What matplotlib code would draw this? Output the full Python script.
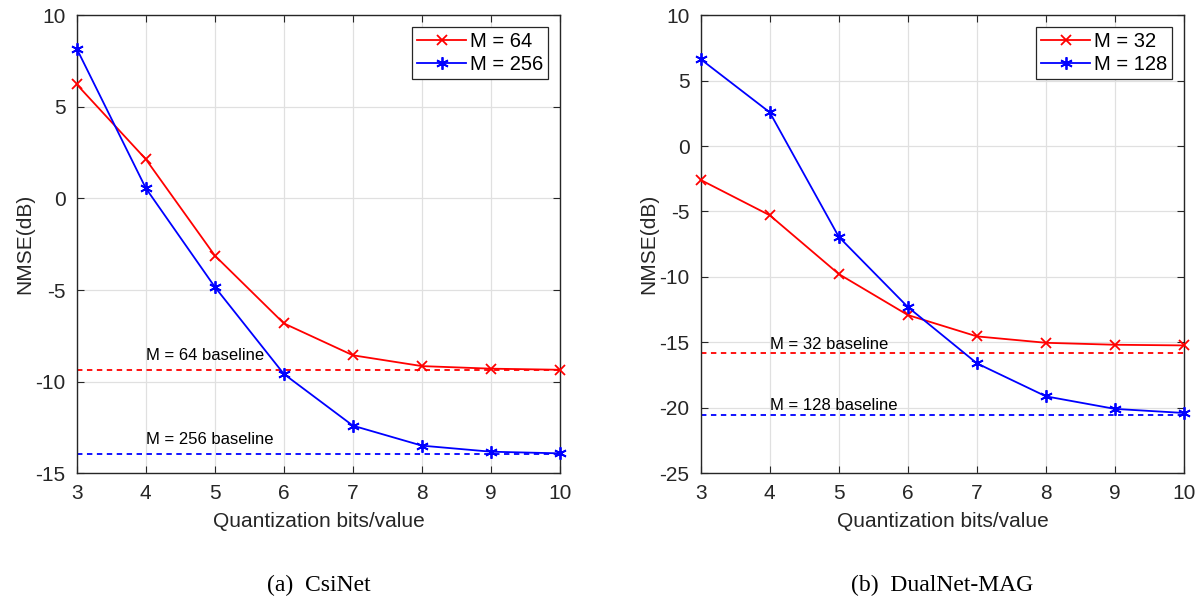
import numpy as np
import matplotlib
matplotlib.use("Agg")
import matplotlib.pyplot as plt

plt.rcParams['font.family'] = ['Liberation Sans', 'DejaVu Sans']
plt.rcParams['axes.unicode_minus'] = False

# donnees
bits = [3, 4, 5, 6, 7, 8, 9, 10]

csinet_m64 = [6.22, 2.14, -3.12, -6.82, -8.56, -9.15, -9.29, -9.35]
csinet_m256 = [8.17, 0.56, -4.83, -9.58, -12.4, -13.49, -13.82, -13.91]
csinet_base = [-9.36, -13.93]
csinet_labels = ["M = 64", "M = 256"]

dual_m32 = [-2.59, -5.29, -9.78, -12.91, -14.54, -15.03, -15.18, -15.23]
dual_m128 = [6.63, 2.57, -6.94, -12.30, -16.6, -19.12, -20.08, -20.39]
dual_base = [-15.81, -20.55]
dual_labels = ["M = 32", "M = 128"]

captions = ["(a)  CsiNet", "(b)  DualNet-MAG"]

asterisk = (6, 2, 0)
spine_col = '#262626'


def style_axes(ax, ylim, yticks):
    ax.set_xlim(3, 10)
    ax.set_ylim(*ylim)
    ax.set_xticks(bits)
    ax.set_yticks(yticks)
    ax.grid(True, color='#e0e0e0', linewidth=0.9)
    ax.set_axisbelow(True)
    ax.tick_params(direction='in', top=True, right=True, labelsize=15,
                   length=5, color=spine_col, labelcolor='#262626', pad=8)
    for s in ax.spines.values():
        s.set_color(spine_col)
        s.set_linewidth(1.0)
    ax.set_xlabel("Quantization bits/value", fontsize=15, color='#262626', labelpad=6)
    ax.set_ylabel("NMSE(dB)", fontsize=15, color='#262626', labelpad=1)


def draw_panel(ax, red, blue, base, labels, text_y, ylim, yticks, caption):
    style_axes(ax, ylim, yticks)
    ax.plot(bits, red, color='red', marker='x', markersize=7, markeredgewidth=1.3,
            linewidth=1.3, label=labels[0], clip_on=False, zorder=3)
    ax.plot(bits, blue, color='blue', marker=asterisk, markersize=9, markeredgewidth=1.3,
            linewidth=1.3, label=labels[1], clip_on=False, zorder=3)
    ax.plot([3, 10], [base[0]] * 2, color='red', linestyle='--', linewidth=1.3, dashes=(3, 2.5))
    ax.plot([3, 10], [base[1]] * 2, color='blue', linestyle='--', linewidth=1.3, dashes=(3, 2.5))
    ax.text(4, text_y[0], labels[0] + " baseline", fontsize=12, va='center', ha='left')
    ax.text(4, text_y[1], labels[1] + " baseline", fontsize=12, va='center', ha='left')
    leg = ax.legend(loc='upper right', fontsize=14.5, fancybox=False, framealpha=1,
                    edgecolor='#262626', handlelength=2.4, borderaxespad=0.6,
                    handletextpad=0.2, borderpad=0.25, labelspacing=0.2)
    leg.get_frame().set_linewidth(0.9)
    ax.text(0.5, -0.245, caption, transform=ax.transAxes, ha='center', va='center',
            fontsize=17, family='Liberation Serif')


fig = plt.figure(figsize=(11.97, 5.99), dpi=100)
ax1 = fig.add_axes([0.0641, 0.2098, 0.4038, 0.765])
ax2 = fig.add_axes([0.5854, 0.2098, 0.4038, 0.765])

draw_panel(ax1, csinet_m64, csinet_m256, csinet_base, csinet_labels,
           [-8.55, -13.13], (-15, 10), [-15, -10, -5, 0, 5, 10], captions[0])
draw_panel(ax2, dual_m32, dual_m128, dual_base, dual_labels,
           [-15.13, -19.8], (-25, 10), [-25, -20, -15, -10, -5, 0, 5, 10], captions[1])

fig.savefig("out.png", dpi=100)
